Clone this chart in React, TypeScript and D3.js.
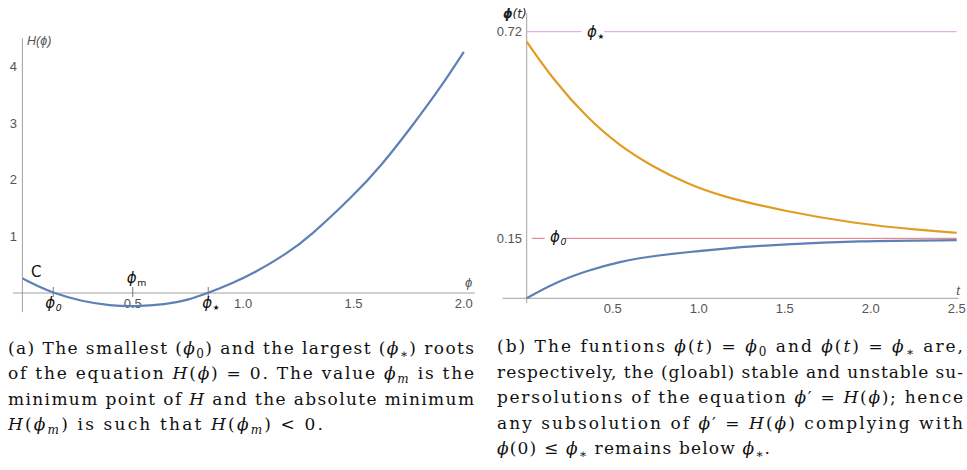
import React from "react";
import * as d3 from "d3";

// ---------------- data (a): H(phi)
const hPhi = [0, 0.07, 0.14, 0.27, 0.4, 0.5, 0.65, 0.75, 0.842, 0.95, 1.05, 1.2, 1.3, 1.5, 1.62, 1.77, 1.9, 2.0];
const hValue = [0.26, 0.12, 0, -0.15, -0.222, -0.24, -0.205, -0.125, 0, 0.17, 0.35, 0.7, 0.99, 1.72, 2.22, 2.97, 3.66, 4.26];
const leftXTicks = [0.5, 1.0, 1.5, 2.0];
const leftYTicks = [1, 2, 3, 4];
const phiZeroA = 0.14;
const phiMinA = 0.5;
const phiStarA = 0.842;

// ---------------- data (b): phi(t)
const tUpper = [0, 0.155, 0.349, 0.542, 0.736, 0.93, 1.124, 1.512, 1.9, 2.287, 2.5];
const vUpper = [0.693, 0.59, 0.488, 0.411, 0.355, 0.31, 0.276, 0.234, 0.2025, 0.184, 0.177];
const tLower = [0, 0.155, 0.349, 0.542, 0.736, 1.124, 1.512, 1.9, 2.5];
const vLower = [0, 0.0405, 0.0745, 0.099, 0.115, 0.134, 0.1466, 0.1547, 0.157];
const rightXTicks = [0.5, 1.0, 1.5, 2.0, 2.5];
const phiStarB = 0.72;
const phiZeroB = 0.162;
const rightYTicks = [
  { value: phiStarB, label: "0.72" },
  { value: phiZeroB, label: "0.15" }
];

// ---------------- captions: [kind, text]; n normal, i italic, s subscript
type Seg = [string, string];
const captionA: Seg[][] = [
  [["n", "(a) The smallest ("], ["i", "ϕ"], ["s", "0"], ["n", ") and the largest ("], ["i", "ϕ"], ["s", "∗"], ["n", ") roots"]],
  [["n", "of the equation "], ["i", "H"], ["n", "("], ["i", "ϕ"], ["n", ") = 0. The value "], ["i", "ϕ"], ["s", "m"], ["n", " is the"]],
  [["n", "minimum point of "], ["i", "H"], ["n", " and the absolute minimum"]],
  [["i", "H"], ["n", "("], ["i", "ϕ"], ["s", "m"], ["n", ") is such that "], ["i", "H"], ["n", "("], ["i", "ϕ"], ["s", "m"], ["n", ") < 0."]]
];
const captionB: Seg[][] = [
  [["n", "(b) The funtions "], ["i", "ϕ"], ["n", "("], ["i", "t"], ["n", ") = "], ["i", "ϕ"], ["s", "0"], ["n", " and "], ["i", "ϕ"], ["n", "("], ["i", "t"], ["n", ") = "], ["i", "ϕ"], ["s", "∗"], ["n", " are,"]],
  [["n", "respectively, the (gloabl) stable and unstable su-"]],
  [["n", "persolutions of the equation "], ["i", "ϕ"], ["n", "′ = "], ["i", "H"], ["n", "("], ["i", "ϕ"], ["n", "); hence"]],
  [["n", "any subsolution of "], ["i", "ϕ"], ["n", "′ = "], ["i", "H"], ["n", "("], ["i", "ϕ"], ["n", ") complying with"]],
  [["i", "ϕ"], ["n", "(0) ≤ "], ["i", "ϕ"], ["s", "∗"], ["n", " remains below "], ["i", "ϕ"], ["s", "∗"], ["n", "."]]
];

const AXIS = "#a0a0a0";
const TICK_TXT = "#555";
const BLUE = "#5e81b5";
const ORANGE = "#e19c24";
const SANS = "'Liberation Sans', Arial, sans-serif";
const SERIF = "'DejaVu Serif', serif";

function renderSegs(segs: Seg[], subSize: number) {
  const out: React.ReactNode[] = [];
  let shifted = false;
  segs.forEach((s, k) => {
    const [kind, txt] = s;
    if (kind === "s") {
      out.push(
        <tspan key={k} dy={4} fontSize={subSize} fontStyle={txt === "m" ? "italic" : "normal"}>{txt}</tspan>
      );
      shifted = true;
    } else {
      out.push(
        <tspan key={k} dy={shifted ? -4 : undefined} fontStyle={kind === "i" ? "italic" : "normal"}>{txt}</tspan>
      );
      shifted = false;
    }
  });
  return out;
}

const Caption = ({ lines, x, y0, step, widths }: { lines: Seg[][]; x: number; y0: number; step: number; widths: number[] }) => (
  <g fontFamily={SERIF} fontSize={17} fill="#111">
    {lines.map((segs, i) => (
      <text key={i} x={x} y={y0 + i * step} textLength={widths[i]} lengthAdjust="spacing">
        {renderSegs(segs, 12)}
      </text>
    ))}
  </g>
);

const App = () => {
  // ---------------------- scales (a)
  const xL = d3.scaleLinear().domain([0, 2]).range([22.4, 463.8]);
  const yL = d3.scaleLinear().domain([0, 4]).range([293, 66.6]);
  // ---------------------- scales (b)
  const xR = d3.scaleLinear().domain([0, 2.5]).range([526.7, 956.7]);
  const yR = d3.scaleLinear().domain([0, 0.72]).range([298.3, 31.7]);

  const lineH = d3
    .line<number>()
    .x((d, i) => xL(hPhi[i]))
    .y(d => yL(d))
    .curve(d3.curveBasis);

  const lineU = d3
    .line<number>()
    .x((d, i) => xR(tUpper[i]))
    .y(d => yR(d))
    .curve(d3.curveBasis);
  const lineLo = d3
    .line<number>()
    .x((d, i) => xR(tLower[i]))
    .y(d => yR(d))
    .curve(d3.curveBasis);

  const phiLabel = (x: number, y: number, sub: string, size = 15) => {
    const star = sub === "star";
    return (
      <text x={x} y={y} fontFamily="'DejaVu Sans', sans-serif" fontSize={size} fill="#111">
        <tspan fontStyle="italic">ϕ</tspan>
        <tspan dy={star ? 2 : 3} dx={0.5} fontSize={star ? size * 0.5 : size * 0.62} fontStyle={sub === "0" ? "italic" : "normal"}>
          {star ? "★" : sub}
        </tspan>
      </text>
    );
  };

  return (
    <svg width={967} height={470} style={{ position: "absolute", left: 0, top: 0, background: "#fff" }}>
      {/* ---------------- panel (a) */}
      <line x1={xL(-0.043)} x2={xL(2.05)} y1={yL(0)} y2={yL(0)} stroke={AXIS} />
      <line x1={xL(0)} x2={xL(0)} y1={yL(4.5)} y2={yL(-0.34)} stroke={AXIS} />
      {leftYTicks.map(v => (
        <text key={v} x={17} y={yL(v) + 4.5} textAnchor="end" fontFamily={SANS} fontSize={13} fill={TICK_TXT}>{v}</text>
      ))}
      {leftXTicks.map(v => (
        <text key={v} x={xL(v)} y={yL(0) + 15} textAnchor="middle" fontFamily={SANS} fontSize={13} fill={TICK_TXT}>{v.toFixed(1)}</text>
      ))}
      {[phiZeroA, phiMinA, phiStarA].map(v => (
        <line key={v} x1={xL(v)} x2={xL(v)} y1={yL(0) - 6} y2={yL(0) + 4} stroke="#777" />
      ))}
      <path d={lineH(hValue) || ""} fill="none" stroke={BLUE} strokeWidth={2.2} />
      <text x={27} y={45} fontFamily={SANS} fontSize={12.5} fontStyle="italic" fill={TICK_TXT}>H(ϕ)</text>
      <text x={465} y={287} fontFamily={SANS} fontSize={13} fontStyle="italic" fill={TICK_TXT}>ϕ</text>
      <text x={31} y={277} fontFamily="'DejaVu Sans', sans-serif" fontSize={15} fill="#111">C</text>
      {phiLabel(xL(phiMinA) - 6, 283, "m")}
      {phiLabel(xL(phiZeroA) - 8, 308, "0")}
      {phiLabel(xL(phiStarA) - 6, 308, "star")}

      {/* ---------------- panel (b) */}
      <line x1={xR(-0.14)} x2={xR(2.51)} y1={yR(0)} y2={yR(0)} stroke={AXIS} />
      <line x1={xR(0)} x2={xR(0)} y1={yR(0.77)} y2={yR(-0.013)} stroke={AXIS} />
      {rightXTicks.map(v => (
        <text key={v} x={xR(v)} y={yR(0) + 15} textAnchor="middle" fontFamily={SANS} fontSize={13} fill={TICK_TXT}>{v.toFixed(1)}</text>
      ))}
      {rightYTicks.map(d => (
        <text key={d.label} x={522} y={yR(d.value) + 4.5} textAnchor="end" fontFamily={SANS} fontSize={13} fill={TICK_TXT}>{d.label}</text>
      ))}
      {/* reference lines */}
      <line x1={xR(0)} x2={xR(0.32)} y1={yR(phiStarB)} y2={yR(phiStarB)} stroke="#d7a3d7" />
      <line x1={xR(0.45)} x2={xR(2.5)} y1={yR(phiStarB)} y2={yR(phiStarB)} stroke="#d7a3d7" />
      <line x1={xR(0.03)} x2={xR(0.105)} y1={yR(phiZeroB)} y2={yR(phiZeroB)} stroke="#e0707a" />
      <line x1={xR(0.225)} x2={xR(2.5)} y1={yR(phiZeroB)} y2={yR(phiZeroB)} stroke="#e0707a" />
      <path d={lineU(vUpper) || ""} fill="none" stroke={ORANGE} strokeWidth={2.2} />
      <path d={lineLo(vLower) || ""} fill="none" stroke={BLUE} strokeWidth={2.2} />
      {phiLabel(587, 37, "star")}
      {phiLabel(550, 242, "0")}
      <text x={503} y={18} fontFamily="'DejaVu Sans', sans-serif" fontSize={12} fontStyle="italic" fill="#222">
        <tspan fontWeight="bold">ϕ</tspan>(t)
      </text>
      <text x={958} y={295} textAnchor="middle" fontFamily={SANS} fontSize={13} fontStyle="italic" fill={TICK_TXT}>t</text>

      {/* ---------------- captions */}
      <Caption lines={captionA} x={8} y0={353.5} step={25.5} widths={[466, 466, 466, 315]} />
      <Caption lines={captionB} x={497} y0={352} step={25.5} widths={[466, 466, 466, 466, 273]} />
    </svg>
  );
};

export default App;
